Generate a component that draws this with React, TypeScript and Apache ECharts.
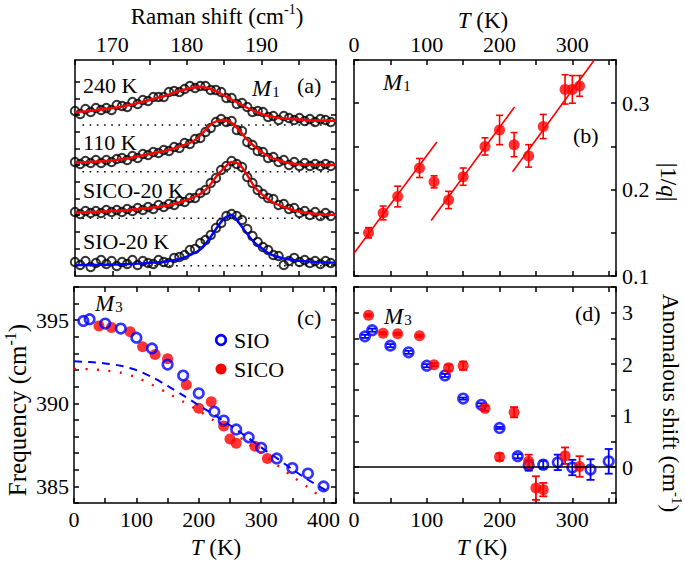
import React, { useEffect, useRef } from "react";
import * as echarts from "echarts";

// ---------- Panel (a): Raman spectra of M1 mode ----------
const ramanShift = [165.0, 165.7, 166.4, 167.1, 167.8, 168.5, 169.2, 169.9, 170.6, 171.3, 172.0, 172.7, 173.4, 174.1, 174.8, 175.5, 176.2, 176.9, 177.6, 178.3, 179.0, 179.7, 180.4, 181.1, 181.8, 182.5, 183.2, 183.9, 184.6, 185.3, 186.0, 186.7, 187.4, 188.1, 188.8, 189.5, 190.2, 190.9, 191.6, 192.3, 193.0, 193.7, 194.4, 195.1, 195.8, 196.5, 197.2, 197.9, 198.6, 199.3];
const data240K = [165, 162, 167, 164, 168, 166, 168, 166, 171, 170, 169, 174, 172, 176, 175, 179, 179, 179, 184, 185, 184, 187, 190, 188, 190, 190, 186, 186, 184, 178, 178, 172, 173, 169, 164, 165, 164, 159, 160, 156, 160, 158, 156, 158, 155, 157, 154, 157, 156, 154];
const data110K = [114, 112, 115, 113, 116, 113, 116, 114, 117, 118, 116, 120, 118, 122, 121, 124, 123, 126, 125, 129, 128, 133, 132, 137, 138, 144, 148, 154, 157, 154, 155, 146, 145, 134, 131, 125, 124, 118, 119, 114, 116, 111, 114, 110, 113, 110, 112, 110, 112, 110];
const dataSICO20K = [64, 62, 65, 63, 65, 63, 66, 64, 66, 64, 67, 65, 68, 66, 69, 67, 71, 69, 72, 71, 75, 74, 78, 78, 83, 86, 93, 98, 106, 110, 115, 112, 109, 99, 93, 86, 82, 78, 77, 71, 72, 67, 68, 63, 65, 61, 64, 60, 63, 60];
const dataSIO20K = [14, 11, 15, 9, 13, 16, 12, 15, 10, 14, 12, 16, 11, 15, 13, 12, 16, 14, 13, 18, 19, 21, 26, 27, 33, 36, 41, 48, 53, 60, 62, 60, 56, 47, 40, 34, 29, 26, 21, 20, 11, 15, 18, 14, 16, 13, 15, 12, 15, 13];

const fitShift = [165, 166, 167, 168, 169, 170, 171, 172, 173, 174, 175, 176, 177, 178, 179, 180, 181, 182, 183, 184, 185, 186, 187, 188, 189, 190, 191, 192, 193, 194, 195, 196, 197, 198, 199, 200];
const fit240K = [164, 164.5, 165, 166, 167, 168, 169, 170.5, 172, 174, 176, 178, 180, 182.5, 185, 187, 188.5, 189, 187.5, 184.5, 180.5, 176.5, 172.5, 168.5, 165, 162, 160, 158.5, 157.5, 157, 156.5, 156, 155.5, 155.3, 155.2, 155];
const fit110K = [113.5, 113.8, 114, 114.5, 115, 115.5, 116.5, 117.5, 119, 120.5, 122, 123.5, 125, 127, 129.5, 132, 135.5, 142, 150, 155, 156, 153, 146, 137, 130, 124, 119.5, 116.5, 114, 112.5, 111.8, 111.4, 111.2, 111.1, 111, 111];
const fitSICO20K = [63.5, 63.7, 64, 64.2, 64.5, 65, 65.3, 65.8, 66.5, 67.2, 68, 69, 70, 71.5, 73.5, 76, 79, 83, 90, 100, 108, 114, 112, 102, 90, 82, 76, 72, 69, 66.5, 64.5, 63.3, 62.3, 61.7, 61.3, 61];
const fitSIO20K = [10.8, 10.9, 11, 11.1, 11.2, 11.4, 11.6, 11.9, 12.2, 12.6, 13, 13.6, 14.3, 15.5, 17, 19.5, 23, 27.5, 37, 48, 57.5, 61, 53, 43, 34, 28, 22.5, 19.5, 17.5, 16.3, 15.3, 14.6, 14.1, 13.7, 13.5, 13.3];
const baselineLevels = [151, 104.3, 57.7, 10.3];
const baselineShift = [166, 199.5];
const spectrumLabels = ["240 K", "110 K", "SICO-20 K", "SIO-20 K"];
const ramanTicksY = [11, 27.67, 44.33, 61, 77.67, 94.33, 111, 127.67, 144.33, 161, 177.67, 194.33];

// ---------- Panel (b): |1/q| vs T ----------
const bT = [20, 40, 60, 90, 110, 130, 150, 180, 200, 220, 240, 260, 290, 300, 310];
const bQ = [0.150, 0.173, 0.192, 0.225, 0.209, 0.188, 0.215, 0.250, 0.269, 0.252, 0.239, 0.273, 0.316, 0.316, 0.320];
const bErr = [0.006, 0.008, 0.012, 0.011, 0.007, 0.010, 0.010, 0.010, 0.017, 0.014, 0.013, 0.014, 0.017, 0.016, 0.012];
const bFit1T = [0, 113.8];
const bFit1Q = [0.1264, 0.255];
const bFit2T = [106, 220.6];
const bFit2Q = [0.1643, 0.2957];
const bFit3T = [217.9, 330.2];
const bFit3Q = [0.2206, 0.35];

// ---------- Panel (c): M3 frequency ----------
const sioT = [15, 25, 50, 75, 100, 125, 150, 175, 200, 225, 240, 260, 280, 300, 325, 350, 375, 400];
const sioFreq = [394.96, 395.06, 394.8, 394.5, 393.95, 393.3, 392.33, 391.67, 390.6, 389.5, 388.96, 388.43, 387.95, 387.32, 386.68, 386.1, 385.77, 385.0];
const sicoT = [40, 60, 90, 110, 130, 150, 180, 200, 220, 240, 250, 260, 290, 310];
const sicoFreq = [394.66, 394.56, 394.3, 393.4, 392.94, 392.68, 391.12, 389.7, 390.1, 388.64, 387.85, 387.59, 387.42, 386.68];
const sioFitT = [0, 25, 50, 75, 100, 125, 150, 175, 200, 225, 250, 275, 300, 325, 350, 375, 400, 410];
const sioFitFreq = [392.53, 392.48, 392.4, 392.26, 392.0, 391.58, 391.05, 390.48, 389.88, 389.3, 388.68, 388.03, 387.35, 386.7, 386.03, 385.4, 384.85, 384.6];
const sicoFitT = [0, 25, 50, 75, 100, 125, 150, 175, 200, 225, 250, 275, 300, 325, 350, 375, 396];
const sicoFitFreq = [392.07, 392.05, 391.97, 391.84, 391.56, 391.12, 390.62, 390.1, 389.55, 388.95, 388.35, 387.7, 387.0, 386.3, 385.6, 384.95, 384.35];

// ---------- Panel (d): anomalous shift ----------
const dSioT = [15, 25, 50, 75, 100, 125, 150, 175, 200, 225, 240, 260, 280, 300, 325, 350];
const dSioShift = [2.54, 2.66, 2.36, 2.23, 1.97, 1.78, 1.33, 1.21, 0.76, 0.21, 0.03, 0.045, 0.09, -0.01, -0.05, 0.11];
const dSioErr = [0.03, 0.03, 0.03, 0.03, 0.03, 0.03, 0.02, 0.03, 0.02, 0.04, 0.1, 0.08, 0.15, 0.15, 0.2, 0.24];
const dSicoT = [20, 40, 60, 90, 110, 130, 150, 180, 200, 220, 240, 250, 260, 290, 310];
const dSicoShift = [2.95, 2.6, 2.59, 2.55, 1.99, 1.93, 1.97, 1.14, 0.195, 1.065, 0.11, -0.41, -0.44, 0.22, 0.01];
const dSicoErr = [0.02, 0.02, 0.02, 0.02, 0.03, 0.06, 0.08, 0.05, 0.07, 0.1, 0.13, 0.23, 0.13, 0.16, 0.2];
const dTicksY = [-0.5, 0, 0.5, 1, 1.5, 2, 2.5, 3, 3.5];
const dLabelsY = [0, 1, 2, 3];

const FONT = "'Liberation Serif', 'Times New Roman', Times, serif";
const FS = 22;
const RED = "#ff0000";
const BLUE = "#0000ff";

const pair = (xs: number[], ys: number[]) => xs.map((x, i) => [x, ys[i]]);
const triple = (xs: number[], ys: number[], es: number[]) => xs.map((x, i) => [x, ys[i], es[i]]);

const axLine = { color: "#000", width: 1.5 };

function mkAxis(gridIndex: number, position: string, min: number, max: number, opts: any = {}) {
  const ax: any = {
    type: "value",
    gridIndex,
    position,
    min,
    max,
    axisLine: { show: true, onZero: false, lineStyle: axLine },
    axisTick: { show: true, inside: true, length: 5, lineStyle: axLine },
    splitLine: { show: false },
    axisLabel: { show: false },
  };
  if (opts.interval !== undefined) ax.interval = opts.interval;
  if (opts.tickValues) ax.axisTick.customValues = opts.tickValues;
  if (opts.label) {
    ax.axisLabel = {
      show: true,
      color: "#000",
      fontFamily: FONT,
      fontSize: FS,
      margin: opts.margin ?? 6,
      showMinLabel: true,
      showMaxLabel: true,
    };
    if (opts.formatter) ax.axisLabel.formatter = opts.formatter;
    if (opts.labelValues) ax.axisLabel.customValues = opts.labelValues;
  }
  return ax;
}

function errorBars(xi: number, yi: number, data: number[][], color: string, cap: number, width: number) {
  return {
    type: "custom",
    xAxisIndex: xi,
    yAxisIndex: yi,
    data,
    silent: true,
    encode: { x: 0, y: 1 },
    renderItem: (params: any, api: any) => {
      const x = api.value(0);
      const y = api.value(1);
      const e = api.value(2);
      const hi = api.coord([x, y + e]);
      const lo = api.coord([x, y - e]);
      const st = { stroke: color, lineWidth: width };
      return {
        type: "group",
        children: [
          { type: "line", shape: { x1: hi[0], y1: hi[1], x2: lo[0], y2: lo[1] }, style: st },
          { type: "line", shape: { x1: hi[0] - cap, y1: hi[1], x2: hi[0] + cap, y2: hi[1] }, style: st },
          { type: "line", shape: { x1: lo[0] - cap, y1: lo[1], x2: lo[0] + cap, y2: lo[1] }, style: st },
        ],
      };
    },
  };
}

function txt(x: number, y: number, text: string, extra: any = {}, rotation = 0) {
  const fs = extra.fs || FS;
  return {
    type: "text",
    x,
    y,
    rotation,
    silent: true,
    style: {
      text,
      fill: "#000",
      fontFamily: FONT,
      fontSize: fs,
      align: extra.align || "left",
      verticalAlign: "middle",
      rich: {
        i: { fontFamily: FONT, fontSize: fs, fontStyle: "italic", fill: "#000" },
        a: { fontFamily: FONT, fontSize: fs, fill: "#000", lineHeight: fs + 4 },
        s: { fontFamily: FONT, fontSize: Math.round(fs * 0.62), fill: "#000", lineHeight: 13, verticalAlign: "top" },
        m: { fontFamily: FONT, fontSize: 23, fontStyle: "italic", fill: "#000", lineHeight: 22 },
        b: { fontFamily: FONT, fontSize: 15, fill: "#000", lineHeight: 14, verticalAlign: "bottom", padding: [14, 0, 0, 1] },
      },
    },
  };
}

export default function App() {
  const ref = useRef<HTMLDivElement>(null);
  useEffect(() => {
    if (!ref.current) return;
    const chart = echarts.init(ref.current, null, { renderer: "svg" });

    const spectraData = [data240K, data110K, dataSICO20K, dataSIO20K];
    const spectraFits = [fit240K, fit110K, fitSICO20K, fitSIO20K];
    const fitColors = [RED, RED, RED, BLUE];

    const series: any[] = [];
    // panel (a)
    baselineLevels.forEach((lv) => {
      series.push({
        type: "line",
        xAxisIndex: 0,
        yAxisIndex: 0,
        data: baselineShift.map((x) => [x, lv]),
        symbol: "none",
        silent: true,
        lineStyle: { color: "#000", width: 1.6, type: [1.6, 5.6] },
      });
    });
    spectraData.forEach((d) => {
      series.push({
        type: "scatter",
        xAxisIndex: 0,
        yAxisIndex: 0,
        data: pair(ramanShift, d),
        symbol: "circle",
        symbolSize: 8.5,
        silent: true,
        itemStyle: { color: "rgba(0,0,0,0)", borderColor: "#000", borderWidth: 1.9 },
      });
    });
    spectraFits.forEach((f, i) => {
      series.push({
        type: "line",
        xAxisIndex: 0,
        yAxisIndex: 0,
        data: pair(fitShift, f),
        symbol: "none",
        smooth: 0.3,
        silent: true,
        lineStyle: { color: fitColors[i], width: 2.4 },
      });
    });

    // panel (b)
    [
      [bFit1T, bFit1Q],
      [bFit2T, bFit2Q],
      [bFit3T, bFit3Q],
    ].forEach(([t, q]) => {
      series.push({
        type: "line",
        xAxisIndex: 2,
        yAxisIndex: 2,
        data: pair(t, q),
        symbol: "none",
        silent: true,
        lineStyle: { color: RED, width: 1.6 },
      });
    });
    series.push(errorBars(2, 2, triple(bT, bQ, bErr), RED, 3.5, 1.6));
    series.push({
      type: "scatter",
      xAxisIndex: 2,
      yAxisIndex: 2,
      data: pair(bT, bQ),
      symbol: "circle",
      symbolSize: 11,
      silent: true,
      itemStyle: { color: RED },
    });

    // panel (c)
    series.push({
      type: "line",
      xAxisIndex: 4,
      yAxisIndex: 4,
      data: pair(sioFitT, sioFitFreq),
      symbol: "none",
      smooth: 0.3,
      silent: true,
      lineStyle: { color: BLUE, width: 2, type: [8, 6] },
    });
    series.push({
      type: "line",
      xAxisIndex: 4,
      yAxisIndex: 4,
      data: pair(sicoFitT, sicoFitFreq),
      symbol: "none",
      smooth: 0.3,
      silent: true,
      lineStyle: { color: RED, width: 2.4, type: [2, 9.5] },
    });
    series.push({
      type: "scatter",
      xAxisIndex: 4,
      yAxisIndex: 4,
      data: pair(sicoT, sicoFreq),
      symbol: "circle",
      symbolSize: 11,
      silent: true,
      itemStyle: { color: RED },
    });
    series.push({
      type: "scatter",
      xAxisIndex: 4,
      yAxisIndex: 4,
      data: pair(sioT, sioFreq),
      symbol: "circle",
      symbolSize: 9.5,
      silent: true,
      itemStyle: { color: "rgba(0,0,0,0)", borderColor: BLUE, borderWidth: 2.6 },
    });

    // panel (d)
    series.push({
      type: "line",
      xAxisIndex: 6,
      yAxisIndex: 6,
      data: [[0, 0], [360, 0]],
      symbol: "none",
      silent: true,
      lineStyle: { color: "#000", width: 1.3 },
    });
    series.push(errorBars(6, 6, triple(dSioT, dSioShift, dSioErr), BLUE, 4, 1.8));
    series.push({
      type: "scatter",
      xAxisIndex: 6,
      yAxisIndex: 6,
      data: pair(dSioT, dSioShift),
      symbol: "circle",
      symbolSize: 9.5,
      silent: true,
      itemStyle: { color: "rgba(0,0,0,0)", borderColor: BLUE, borderWidth: 2.6 },
    });
    series.push(errorBars(6, 6, triple(dSicoT, dSicoShift, dSicoErr), RED, 4, 1.8));
    series.push({
      type: "scatter",
      xAxisIndex: 6,
      yAxisIndex: 6,
      data: pair(dSicoT, dSicoShift),
      symbol: "circle",
      symbolSize: 11,
      silent: true,
      itemStyle: { color: RED },
    });

    const evenTen = (v: number) => (v % 10 === 0 && v > 165 && v < 200 ? String(v) : "");
    const hundreds = (max: number) => (v: number) => (v % 100 === 0 && v <= max ? String(v) : "");
    const tenths = (v: number) => {
      const r = Math.round(v * 100);
      return r % 10 === 0 && r < 35 ? (r / 100).toFixed(1) : "";
    };
    const fives = (v: number) => (v % 5 === 0 ? String(v) : "");

    const xAxis = [
      mkAxis(0, "bottom", 165, 200, { interval: 5 }),
      mkAxis(0, "top", 165, 200, { interval: 5, label: true, formatter: evenTen, margin: 5 }),
      mkAxis(1, "bottom", 0, 360, { interval: 50 }),
      mkAxis(1, "top", 0, 360, { interval: 50, label: true, formatter: hundreds(300), margin: 5 }),
      mkAxis(2, "bottom", 0, 420, { interval: 50, label: true, formatter: hundreds(400), margin: 5 }),
      mkAxis(2, "top", 0, 420, { interval: 50 }),
      mkAxis(3, "bottom", 0, 360, { interval: 50, label: true, formatter: hundreds(300), margin: 5 }),
      mkAxis(3, "top", 0, 360, { interval: 50 }),
    ];
    const yAxis = [
      mkAxis(0, "left", 0, 216, { tickValues: ramanTicksY }),
      mkAxis(0, "right", 0, 216, { tickValues: ramanTicksY }),
      mkAxis(1, "left", 0.1, 0.35, { interval: 0.05 }),
      mkAxis(1, "right", 0.1, 0.35, { interval: 0.05, label: true, formatter: tenths, margin: 6 }),
      mkAxis(2, "left", 384, 397, { interval: 1, label: true, formatter: fives, margin: 5 }),
      mkAxis(2, "right", 384, 397, { interval: 1 }),
      mkAxis(3, "left", -0.7, 3.5, { tickValues: dTicksY }),
      mkAxis(3, "right", -0.7, 3.5, { tickValues: dTicksY, label: true, labelValues: dLabelsY, margin: 6 }),
    ];

    const graphics: any[] = [
      txt(217, 16, "{a|Raman shift (cm}{s|-1}{a|)}", { align: "center", fs: 23 }),
      txt(483, 20, "{i|T} (K)", { align: "center", fs: 23 }),
      txt(216, 547, "{i|T} (K)", { align: "center", fs: 23 }),
      txt(482, 547, "{i|T} (K)", { align: "center", fs: 23 }),
      txt(17, 410, "{a|Frequency (cm}{s|-1}{a|)}", { align: "center", fs: 25 }, Math.PI / 2),
      txt(668, 182, "|1/{i|q}|", { align: "center", fs: 23 }, -Math.PI / 2),
      txt(671, 403, "{a|Anomalous shift (cm}{s|-1}{a|)}", { align: "center", fs: 23.5 }, -Math.PI / 2),
      txt(83, 85, spectrumLabels[0]),
      txt(83, 142, spectrumLabels[1]),
      txt(83, 190, spectrumLabels[2]),
      txt(83, 241, spectrumLabels[3]),
      txt(252, 88, "{m|M}{b|1}"),
      txt(297, 85, "(a)"),
      txt(383, 82, "{m|M}{b|1}"),
      txt(573, 135, "(b)"),
      txt(95, 303, "{m|M}{b|3}"),
      txt(297, 317, "(c)"),
      txt(384, 316, "{m|M}{b|3}"),
      txt(575, 313, "(d)"),
      {
        type: "circle",
        silent: true,
        shape: { cx: 221, cy: 340, r: 4.8 },
        style: { fill: "none", stroke: BLUE, lineWidth: 2.6 },
      },
      {
        type: "circle",
        silent: true,
        shape: { cx: 221, cy: 369, r: 5.5 },
        style: { fill: RED },
      },
      txt(234, 340, "SIO"),
      txt(234, 369, "SICO"),
    ];

    chart.setOption({
      animation: false,
      backgroundColor: "#ffffff",
      textStyle: { fontFamily: FONT },
      grid: [
        { left: 75, top: 60, width: 261, height: 216 },
        { left: 354, top: 60, width: 262, height: 216 },
        { left: 74, top: 287, width: 262, height: 216 },
        { left: 354, top: 287, width: 262, height: 216 },
      ],
      xAxis,
      yAxis,
      series,
      graphic: { elements: graphics },
    });
    return () => chart.dispose();
  }, []);

  return (
    <div
      ref={ref}
      style={{ position: "fixed", left: 0, top: 0, width: 685, height: 561, background: "#fff" }}
    />
  );
}
